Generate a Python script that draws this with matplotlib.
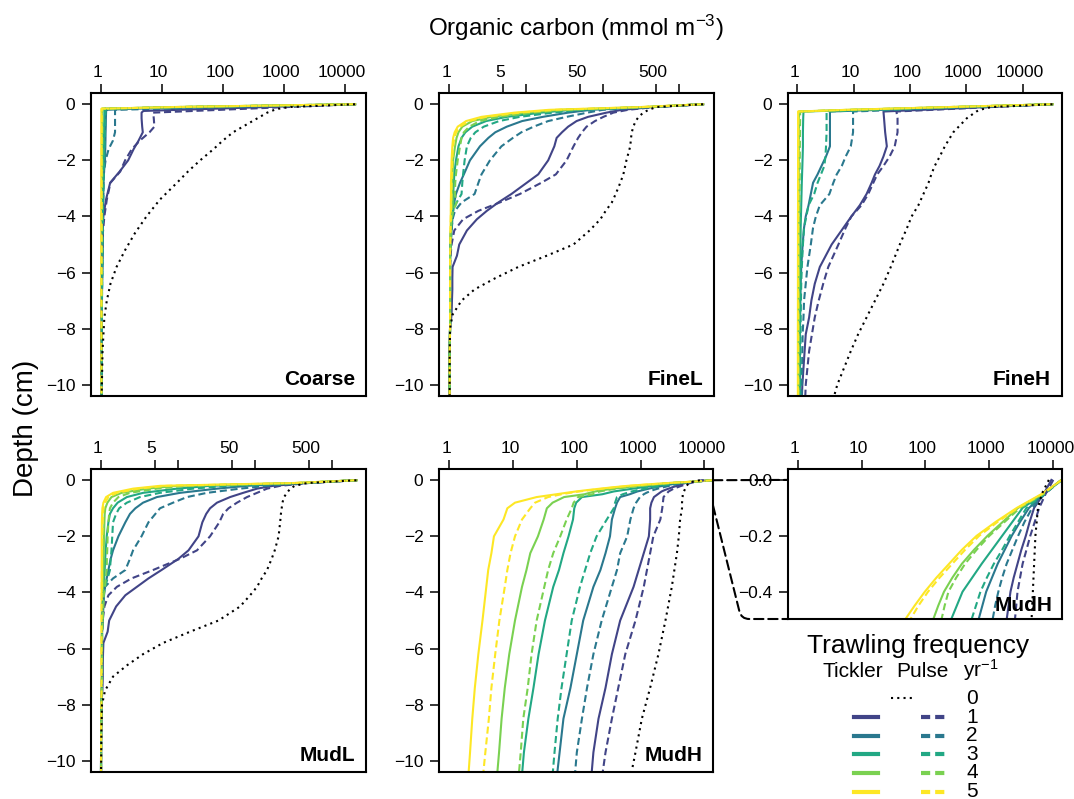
import matplotlib
matplotlib.use("Agg")
import matplotlib.pyplot as plt
from matplotlib.lines import Line2D
from matplotlib.patches import ConnectionPatch
from matplotlib.ticker import NullLocator
from matplotlib.transforms import ScaledTranslation
import numpy as np

plt.rcParams["font.family"] = ["Liberation Sans", "DejaVu Sans"]
plt.rcParams["mathtext.fontset"] = "custom"
plt.rcParams["mathtext.rm"] = "Liberation Sans"
plt.rcParams["mathtext.it"] = "Liberation Sans:italic"
plt.rcParams["mathtext.bf"] = "Liberation Sans:bold"

W, H = 1074, 799

freq_labels = ["0", "1", "2", "3", "4", "5"]
freq_colors = ["#414487", "#2A788E", "#22A884", "#7AD151", "#FDE725"]

# organic carbon, stored as log10(mmol m-3)
# tickler / pulse lists hold the 1..5 yr-1 profiles

# --- Coarse
coarse_depth = [0, -0.1, -0.16, -0.2, -0.24, -0.3, -0.5, -0.8, -1.0, -1.3, -1.6, -2.0,
                -2.4, -2.8, -3.4, -4.0, -4.6, -5.2, -5.8, -6.4, -7.0, -7.6, -8.8, -10.5]
coarse_f0 = [4.17, 3.10, 2.92, 2.85, 2.80, 2.73, 2.57, 2.33, 2.17, 2.00, 1.85, 1.63,
             1.43, 1.25, 0.97, 0.75, 0.56, 0.40, 0.26, 0.16, 0.10, 0.06, 0.03, 0.015]
coarse_tickler = [
    [4.17, 2.72, 1.86, 1.28, 0.70, 0.67, 0.67, 0.68, 0.69, 0.62, 0.54, 0.45,
     0.31, 0.155, 0.087, 0.044, 0.03, 0.025, 0.022, 0.02, 0.02, 0.018, 0.017, 0.015],
    [4.17, 1.90, 0.54, 0.09, 0.09, 0.088, 0.085, 0.083, 0.08, 0.078, 0.075, 0.07,
     0.055, 0.045, 0.04, 0.035, 0.03, 0.027, 0.025, 0.022, 0.02, 0.018, 0.017, 0.015],
    [4.17, 1.35, 0.06, 0.06, 0.06, 0.06, 0.058, 0.056, 0.055, 0.053, 0.05, 0.047,
     0.043, 0.04, 0.037, 0.033, 0.03, 0.027, 0.025, 0.022, 0.02, 0.018, 0.017, 0.015],
    [4.17, 1.25, 0.02, 0.02, 0.02, 0.02, 0.02, 0.02, 0.02, 0.02, 0.019, 0.019,
     0.018, 0.018, 0.018, 0.017, 0.017, 0.017, 0.016, 0.016, 0.016, 0.015, 0.015, 0.015],
    [4.17, 1.20, 0.012, 0.012, 0.012, 0.012, 0.012, 0.012, 0.012, 0.012, 0.012, 0.012,
     0.011, 0.011, 0.011, 0.011, 0.011, 0.011, 0.011, 0.01, 0.01, 0.01, 0.01, 0.01],
]
coarse_pulse = [
    [4.17, 3.07, 2.40, 1.96, 1.52, 0.86, 0.87, 0.88, 0.80, 0.64, 0.51, 0.40,
     0.32, 0.16, 0.10, 0.06, 0.035, 0.03, 0.025, 0.022, 0.02, 0.018, 0.017, 0.015],
    [4.17, 2.20, 1.02, 0.235, 0.235, 0.235, 0.235, 0.235, 0.235, 0.20, 0.13, 0.08,
     0.055, 0.045, 0.04, 0.035, 0.03, 0.027, 0.025, 0.022, 0.02, 0.018, 0.017, 0.015],
    [4.17, 1.40, 0.08, 0.08, 0.08, 0.078, 0.075, 0.072, 0.07, 0.066, 0.062, 0.057,
     0.052, 0.047, 0.042, 0.037, 0.033, 0.03, 0.027, 0.024, 0.021, 0.019, 0.017, 0.015],
    [4.17, 1.30, 0.03, 0.03, 0.03, 0.03, 0.029, 0.028, 0.028, 0.027, 0.026, 0.025,
     0.024, 0.023, 0.022, 0.021, 0.02, 0.019, 0.018, 0.017, 0.017, 0.016, 0.016, 0.015],
    [4.17, 1.25, 0.018, 0.018, 0.018, 0.018, 0.018, 0.017, 0.017, 0.017, 0.016, 0.016,
     0.016, 0.015, 0.015, 0.015, 0.014, 0.014, 0.014, 0.013, 0.013, 0.013, 0.012, 0.012],
]

# --- FineL and MudL share a depth grid
low_depth = [0, -0.1, -0.2, -0.3, -0.45, -0.6, -0.8, -1.0, -1.2, -1.5,
             -2.0, -2.5, -2.8, -3.2, -3.5, -3.8, -4.1, -4.5, -5.0, -5.4,
             -5.8, -6.2, -6.6, -7.0, -7.5, -8.0, -9.0, -10.5]
finel_f0 = [3.31, 2.70, 2.60, 2.53, 2.47, 2.43, 2.40, 2.38, 2.37, 2.36,
            2.31, 2.27, 2.23, 2.17, 2.12, 2.04, 1.97, 1.83, 1.62, 1.27,
            0.90, 0.60, 0.33, 0.16, 0.043, 0.01, 0.005, 0.005]
finel_tickler = [
    [3.31, 2.66, 2.25, 2.05, 1.81, 1.66, 1.55, 1.47, 1.40, 1.37,
     1.29, 1.16, 1.01, 0.81, 0.64, 0.49, 0.36, 0.23, 0.13, 0.10,
     0.043, 0.04, 0.04, 0.035, 0.03, 0.01, 0.005, 0.005],
    [3.31, 2.62, 1.85, 1.55, 1.22, 0.95, 0.75, 0.60, 0.51, 0.40,
     0.27, 0.19, 0.14, 0.087, 0.065, 0.05, 0.04, 0.03, 0.017, 0.01,
     0.01, 0.01, 0.01, 0.01, 0.01, 0.01, 0.005, 0.005],
    [3.31, 2.58, 1.60, 1.20, 0.75, 0.48, 0.30, 0.21, 0.16, 0.12,
     0.087, 0.065, 0.06, 0.05, 0.06, 0.05, 0.03, 0.022, 0.013, 0.01,
     0.01, 0.01, 0.01, 0.01, 0.01, 0.01, 0.005, 0.005],
    [3.31, 2.55, 1.45, 1.00, 0.55, 0.30, 0.17, 0.12, 0.095, 0.075,
     0.05, 0.043, 0.04, 0.04, 0.043, 0.035, 0.03, 0.022, 0.013, 0.01,
     0.01, 0.01, 0.01, 0.01, 0.01, 0.01, 0.005, 0.005],
    [3.31, 2.50, 1.30, 0.85, 0.42, 0.22, 0.11, 0.07, 0.05, 0.04,
     0.03, 0.025, 0.022, 0.022, 0.02, 0.02, 0.018, 0.015, 0.013, 0.01,
     0.01, 0.01, 0.01, 0.01, 0.01, 0.01, 0.005, 0.005],
]
finel_pulse = [
    [3.31, 2.68, 2.33, 2.14, 2.01, 1.90, 1.79, 1.73, 1.68, 1.62,
     1.53, 1.39, 1.20, 0.92, 0.66, 0.38, 0.18, 0.065, 0.03, 0.017,
     0.01, 0.01, 0.01, 0.01, 0.01, 0.01, 0.005, 0.005],
    [3.31, 2.64, 2.00, 1.80, 1.53, 1.29, 1.10, 0.94, 0.83, 0.68,
     0.53, 0.42, 0.38, 0.33, 0.16, 0.074, 0.043, 0.03, 0.017, 0.01,
     0.01, 0.01, 0.01, 0.01, 0.01, 0.01, 0.005, 0.005],
    [3.31, 2.60, 1.72, 1.35, 0.92, 0.65, 0.45, 0.34, 0.28, 0.23,
     0.20, 0.18, 0.17, 0.16, 0.096, 0.05, 0.035, 0.022, 0.017, 0.01,
     0.01, 0.01, 0.01, 0.01, 0.01, 0.01, 0.005, 0.005],
    [3.31, 2.56, 1.52, 1.10, 0.65, 0.40, 0.26, 0.19, 0.16, 0.14,
     0.11, 0.087, 0.078, 0.074, 0.096, 0.05, 0.03, 0.02, 0.017, 0.01,
     0.01, 0.01, 0.01, 0.01, 0.01, 0.01, 0.005, 0.005],
    [3.31, 2.52, 1.38, 0.92, 0.48, 0.26, 0.14, 0.09, 0.065, 0.05,
     0.04, 0.035, 0.03, 0.028, 0.025, 0.022, 0.02, 0.017, 0.015, 0.01,
     0.01, 0.01, 0.01, 0.01, 0.01, 0.01, 0.005, 0.005],
]

mudl_f0 = [3.32, 2.68, 2.52, 2.46, 2.42, 2.38, 2.36, 2.35, 2.34, 2.33,
           2.31, 2.26, 2.22, 2.16, 2.09, 2.03, 1.94, 1.81, 1.53, 1.16,
           0.81, 0.55, 0.34, 0.16, 0.056, 0.017, 0.009, 0.004]
mudl_tickler = [
    [3.32, 2.68, 2.24, 2.03, 1.85, 1.68, 1.51, 1.42, 1.37, 1.32,
     1.27, 1.14, 1.01, 0.79, 0.62, 0.47, 0.32, 0.20, 0.11, 0.09,
     0.035, 0.03, 0.027, 0.027, 0.022, 0.009, 0.005, 0.004],
    [3.32, 2.62, 1.90, 1.51, 1.03, 0.73, 0.55, 0.45, 0.38, 0.32,
     0.23, 0.16, 0.13, 0.10, 0.078, 0.056, 0.043, 0.035, 0.026, 0.017,
     0.017, 0.017, 0.017, 0.017, 0.015, 0.009, 0.005, 0.004],
    [3.32, 2.58, 1.42, 0.99, 0.55, 0.34, 0.22, 0.16, 0.12, 0.10,
     0.078, 0.065, 0.058, 0.052, 0.045, 0.039, 0.035, 0.03, 0.026, 0.017,
     0.017, 0.017, 0.017, 0.017, 0.015, 0.009, 0.005, 0.004],
    [3.32, 2.55, 0.99, 0.60, 0.27, 0.14, 0.087, 0.06, 0.052, 0.048,
     0.043, 0.04, 0.038, 0.035, 0.033, 0.03, 0.03, 0.028, 0.026, 0.017,
     0.017, 0.017, 0.017, 0.017, 0.015, 0.009, 0.005, 0.004],
    [3.32, 2.50, 0.77, 0.42, 0.16, 0.07, 0.035, 0.022, 0.018, 0.015,
     0.013, 0.013, 0.013, 0.013, 0.013, 0.012, 0.012, 0.012, 0.011, 0.011,
     0.011, 0.01, 0.01, 0.01, 0.01, 0.009, 0.005, 0.004],
]
mudl_pulse = [
    [3.32, 2.70, 2.33, 2.16, 2.03, 1.90, 1.77, 1.66, 1.59, 1.54,
     1.42, 1.25, 1.03, 0.68, 0.40, 0.21, 0.10, 0.048, 0.026, 0.017,
     0.017, 0.017, 0.017, 0.017, 0.015, 0.009, 0.005, 0.004],
    [3.32, 2.65, 2.16, 1.81, 1.38, 1.12, 0.94, 0.77, 0.71, 0.62,
     0.53, 0.42, 0.38, 0.32, 0.16, 0.056, 0.035, 0.026, 0.02, 0.017,
     0.017, 0.017, 0.017, 0.017, 0.015, 0.009, 0.005, 0.004],
    [3.32, 2.60, 1.64, 1.20, 0.77, 0.51, 0.34, 0.24, 0.20, 0.16,
     0.15, 0.14, 0.13, 0.12, 0.09, 0.056, 0.035, 0.022, 0.02, 0.017,
     0.017, 0.017, 0.017, 0.017, 0.015, 0.009, 0.005, 0.004],
    [3.32, 2.56, 1.12, 0.73, 0.38, 0.23, 0.16, 0.12, 0.11, 0.10,
     0.09, 0.085, 0.08, 0.078, 0.065, 0.056, 0.04, 0.035, 0.026, 0.017,
     0.017, 0.017, 0.017, 0.017, 0.015, 0.009, 0.005, 0.004],
    [3.32, 2.52, 0.86, 0.49, 0.21, 0.10, 0.056, 0.035, 0.03, 0.025,
     0.02, 0.018, 0.017, 0.016, 0.015, 0.014, 0.013, 0.012, 0.012, 0.011,
     0.011, 0.01, 0.01, 0.01, 0.01, 0.009, 0.005, 0.004],
]

# --- FineH
fineh_depth = [0, -0.1, -0.2, -0.26, -0.5, -1.0, -1.5, -1.86, -2.2, -2.5,
               -2.8, -3.2, -3.6, -4.0, -4.4, -5.0, -5.8, -6.4, -7.0, -7.6,
               -8.2, -8.8, -9.4, -10.0, -10.5]
fineh_f0 = [4.53, 3.45, 3.24, 3.18, 3.01, 2.77, 2.62, 2.53, 2.44, 2.38,
            2.33, 2.24, 2.15, 2.03, 1.95, 1.82, 1.66, 1.53, 1.38, 1.23,
            1.08, 0.95, 0.83, 0.71, 0.64]
fineh_tickler = [
    [4.53, 3.38, 2.22, 1.53, 1.54, 1.56, 1.59, 1.53, 1.46, 1.38,
     1.32, 1.23, 1.11, 0.96, 0.82, 0.61, 0.40, 0.31, 0.25, 0.21,
     0.15, 0.13, 0.11, 0.09, 0.08],
    [4.53, 3.01, 1.49, 0.58, 0.58, 0.58, 0.58, 0.51, 0.43, 0.36,
     0.28, 0.24, 0.20, 0.15, 0.12, 0.095, 0.07, 0.06, 0.053, 0.05,
     0.047, 0.044, 0.041, 0.038, 0.036],
    [4.53, 2.83, 1.13, 0.11, 0.105, 0.10, 0.10, 0.095, 0.09, 0.085,
     0.08, 0.075, 0.07, 0.065, 0.06, 0.057, 0.054, 0.052, 0.05, 0.049,
     0.048, 0.047, 0.046, 0.045, 0.045],
    [4.53, 2.73, 0.93, 0.03, 0.03, 0.03, 0.029, 0.028, 0.028, 0.027,
     0.027, 0.026, 0.026, 0.025, 0.025, 0.024, 0.024, 0.023, 0.023, 0.022,
     0.022, 0.021, 0.021, 0.02, 0.02],
    [4.53, 2.70, 0.88, 0.015, 0.015, 0.015, 0.015, 0.014, 0.014, 0.014,
     0.013, 0.013, 0.013, 0.012, 0.012, 0.012, 0.011, 0.011, 0.011, 0.011,
     0.01, 0.01, 0.01, 0.01, 0.01],
]
fineh_pulse = [
    [4.53, 3.46, 2.40, 1.76, 1.78, 1.78, 1.73, 1.64, 1.53, 1.42,
     1.35, 1.26, 1.14, 0.96, 0.86, 0.73, 0.55, 0.46, 0.38, 0.31,
     0.26, 0.21, 0.18, 0.15, 0.14],
    [4.53, 3.17, 1.81, 0.99, 0.99, 0.99, 0.95, 0.86, 0.79, 0.70,
     0.64, 0.57, 0.40, 0.33, 0.28, 0.24, 0.18, 0.15, 0.12, 0.11,
     0.095, 0.09, 0.085, 0.08, 0.077],
    [4.53, 2.97, 1.42, 0.52, 0.52, 0.52, 0.51, 0.50, 0.48, 0.42,
     0.36, 0.30, 0.20, 0.16, 0.12, 0.10, 0.08, 0.07, 0.065, 0.06,
     0.058, 0.055, 0.053, 0.051, 0.05],
    [4.53, 2.75, 0.97, 0.05, 0.05, 0.048, 0.046, 0.045, 0.044, 0.043,
     0.042, 0.04, 0.038, 0.036, 0.034, 0.032, 0.03, 0.029, 0.028, 0.027,
     0.026, 0.025, 0.025, 0.024, 0.024],
    [4.53, 2.72, 0.90, 0.02, 0.02, 0.02, 0.02, 0.019, 0.019, 0.019,
     0.018, 0.018, 0.018, 0.017, 0.017, 0.017, 0.016, 0.016, 0.016, 0.015,
     0.015, 0.015, 0.015, 0.015, 0.015],
]

# --- MudH (also shown zoomed in the inset)
mudh_depth = [0, -0.05, -0.1, -0.15, -0.2, -0.25, -0.3, -0.35, -0.4, -0.45, -0.5,
              -0.6, -0.8, -1.0, -1.4, -2.0, -2.6, -3.2, -3.8, -5.0, -6.2, -7.4,
              -8.5, -9.7, -10.5]
mudh_f0 = [3.93, 3.82, 3.76, 3.74, 3.72, 3.71, 3.70, 3.69, 3.68, 3.67, 3.66,
           3.66, 3.65, 3.65, 3.62, 3.60, 3.57, 3.53, 3.49, 3.39, 3.28, 3.15,
           3.02, 2.92, 2.85]
mudh_tickler = [
    [3.97, 3.85, 3.70, 3.63, 3.57, 3.50, 3.44, 3.38, 3.33, 3.30, 3.27,
     3.21, 3.17, 3.15, 3.15, 3.13, 3.05, 2.97, 2.89, 2.68, 2.55, 2.45,
     2.34, 2.26, 2.23],
    [4.13, 3.86, 3.62, 3.48, 3.35, 3.24, 3.13, 3.04, 2.95, 2.89, 2.83,
     2.68, 2.63, 2.60, 2.55, 2.52, 2.45, 2.37, 2.26, 2.10, 2.00, 1.90,
     1.79, 1.73, 1.69],
    [4.13, 3.85, 3.52, 3.36, 3.20, 3.04, 2.88, 2.73, 2.58, 2.49, 2.40,
     2.08, 1.99, 1.96, 1.94, 1.87, 1.79, 1.72, 1.63, 1.50, 1.40, 1.32,
     1.24, 1.17, 1.14],
    [4.13, 3.84, 3.45, 3.21, 2.97, 2.76, 2.57, 2.42, 2.29, 2.20, 2.12,
     1.80, 1.62, 1.53, 1.48, 1.39, 1.27, 1.21, 1.14, 1.03, 0.94, 0.87,
     0.82, 0.78, 0.75],
    [4.13, 3.82, 3.43, 3.10, 2.80, 2.57, 2.37, 2.17, 1.99, 1.83, 1.68,
     1.37, 1.03, 0.91, 0.85, 0.70, 0.66, 0.61, 0.58, 0.52, 0.455, 0.40,
     0.36, 0.325, 0.30],
]
mudh_pulse = [
    [4.00, 3.88, 3.78, 3.71, 3.64, 3.58, 3.52, 3.48, 3.44, 3.42, 3.40,
     3.36, 3.35, 3.34, 3.31, 3.20, 3.15, 3.10, 3.05, 2.92, 2.76, 2.65,
     2.55, 2.45, 2.40],
    [4.13, 3.87, 3.67, 3.55, 3.45, 3.36, 3.27, 3.20, 3.14, 3.09, 3.05,
     2.99, 2.93, 2.89, 2.84, 2.79, 2.68, 2.63, 2.55, 2.39, 2.26, 2.16,
     2.08, 2.00, 1.97],
    [4.13, 3.86, 3.58, 3.45, 3.32, 3.20, 3.07, 2.96, 2.86, 2.79, 2.72,
     2.63, 2.60, 2.58, 2.47, 2.31, 2.21, 2.13, 2.05, 1.92, 1.84, 1.76,
     1.70, 1.65, 1.62],
    [4.13, 3.85, 3.48, 3.24, 3.00, 2.80, 2.62, 2.48, 2.36, 2.30, 2.25,
     2.02, 1.95, 1.92, 1.84, 1.74, 1.63, 1.55, 1.49, 1.37, 1.29, 1.23,
     1.16, 1.12, 1.09],
    [4.13, 3.83, 3.45, 3.13, 2.84, 2.62, 2.42, 2.22, 2.04, 1.89, 1.76,
     1.55, 1.345, 1.27, 1.14, 1.03, 0.96, 0.91, 0.87, 0.785, 0.72, 0.66,
     0.62, 0.565, 0.53],
]

decade_ticks = [1, 10, 100, 1000, 10000]
decade_labels = ["1", "10", "100", "1000", "10000"]
half_ticks = [1, 5, 10, 50, 100, 500, 1000]
half_labels = ["1", "5", "", "50", "", "500", ""]
depth_ticks = [0, -2, -4, -6, -8, -10]
inset_ticks = [0, -0.2, -0.4]


def rect(left, top, right, bottom):
    return [left / W, 1 - bottom / H, (right - left) / W, (bottom - top) / H]


def minus(s):
    return s.replace("-", "\u2212")


def draw_profiles(ax, depth, f0, tickler, pulse):
    d = np.asarray(depth)
    for col, t in zip(freq_colors, tickler):
        ax.plot(10 ** np.asarray(t), d, color=col, lw=1.5)
    for col, p in zip(freq_colors, pulse):
        ax.plot(10 ** np.asarray(p), d, color=col, lw=1.5, dashes=(3.4, 1.8))
    ax.plot(10 ** np.asarray(f0), d, color="black", lw=1.5, dashes=(1, 2))


def style(ax, xlog, xticks, xlabels, name, ylim=(-10.4, 0.4), yticks=depth_ticks,
          yfmt="{:g}", name_off=(11, 11)):
    ax.set_xscale("log")
    ax.set_xlim(10 ** xlog[0], 10 ** xlog[1])
    ax.set_ylim(*ylim)
    ax.xaxis.tick_top()
    ax.set_xticks(xticks)
    ax.set_xticklabels(xlabels)
    ax.xaxis.set_minor_locator(NullLocator())
    ax.set_yticks(yticks)
    ax.set_yticklabels([minus(yfmt.format(v)) for v in yticks])
    ax.tick_params(axis="x", length=6.7, width=1.1, pad=2.5, labelsize=12.5)
    ax.tick_params(axis="y", length=6.7, width=1.1, pad=4.5, labelsize=12.5)
    # the reference labels sit a few pixels left of their ticks
    shift = ScaledTranslation(-3 / 100, 0, fig.dpi_scale_trans)
    for tk in ax.xaxis.get_major_ticks():
        tk.label2.set_transform(tk.label2.get_transform() + shift)
    for s in ax.spines.values():
        s.set_linewidth(1.5)
    bb = ax.get_position()
    ax.text(1 - name_off[0] / (bb.width * W), name_off[1] / (bb.height * H), name,
            transform=ax.transAxes, ha="right", va="baseline",
            fontsize=15, fontweight="bold")


fig = plt.figure(figsize=(W / 100, H / 100), dpi=100)

ax = fig.add_axes(rect(91, 93, 366, 396))
draw_profiles(ax, coarse_depth, coarse_f0, coarse_tickler, coarse_pulse)
style(ax, (-0.159, 4.349), decade_ticks, decade_labels, "Coarse")

ax = fig.add_axes(rect(439, 93, 714, 396))
draw_profiles(ax, low_depth, finel_f0, finel_tickler, finel_pulse)
style(ax, (-0.134, 3.452), half_ticks, half_labels, "FineL")

ax = fig.add_axes(rect(788, 93, 1062, 396))
draw_profiles(ax, fineh_depth, fineh_f0, fineh_tickler, fineh_pulse)
style(ax, (-0.165, 4.70), decade_ticks, decade_labels, "FineH")

ax = fig.add_axes(rect(91, 469, 366, 772))
draw_profiles(ax, low_depth, mudl_f0, mudl_tickler, mudl_pulse)
style(ax, (-0.126, 3.445), half_ticks, half_labels, "MudL")

mudh_xlog = (-0.162, 4.136)
ax_mudh = fig.add_axes(rect(439, 469, 713, 772))
draw_profiles(ax_mudh, mudh_depth, mudh_f0, mudh_tickler, mudh_pulse)
style(ax_mudh, mudh_xlog, decade_ticks, decade_labels, "MudH")

inset_xlog = (-0.15, 4.136)
inset_ylim = (-0.4975, 0.039)
ax_in = fig.add_axes(rect(788, 469, 1062, 619))
draw_profiles(ax_in, mudh_depth, mudh_f0, mudh_tickler, mudh_pulse)
style(ax_in, inset_xlog, decade_ticks, decade_labels, "MudH", ylim=inset_ylim,
      yticks=inset_ticks, yfmt="{:.1f}", name_off=(10, 8))

# zoom connectors between MudH and its inset
dash = (0, (4.5, 2.3))
fig.add_artist(ConnectionPatch(xyA=(10 ** mudh_xlog[1], 0), coordsA="data", axesA=ax_mudh,
                               xyB=(10 ** inset_xlog[0], 0), coordsB="data", axesB=ax_in,
                               color="black", lw=1.5, linestyle=dash))
fig.add_artist(ConnectionPatch(xyA=(10 ** mudh_xlog[1], -0.9), coordsA="data", axesA=ax_mudh,
                               xyB=(10 ** inset_xlog[0], inset_ylim[0]), coordsB="data",
                               axesB=ax_in, color="black", lw=1.5, linestyle=dash,
                               connectionstyle="angle,angleA=-76,angleB=0,rad=8"))

# shared axis titles
fig.text(576 / W, 1 - 36 / H, "Organic carbon (mmol m$^{-3}$)", ha="center",
         va="baseline", fontsize=17.5)
fig.text(33 / W, 1 - 428 / H, "Depth (cm)", rotation=90, rotation_mode="anchor",
         ha="center", va="baseline", fontsize=20)

# legend
fig.text(918 / W, 1 - 653 / H, "Trawling frequency", ha="center", va="baseline", fontsize=19)
fig.text(853 / W, 1 - 677 / H, "Tickler", ha="center", va="baseline", fontsize=15)
fig.text(922 / W, 1 - 677 / H, "Pulse", ha="center", va="baseline", fontsize=15)
fig.text(963 / W, 1 - 677 / H, "yr$^{-1}$", ha="left", va="baseline", fontsize=15)
for i, lab in enumerate(freq_labels):
    yl = 1 - (698 + 18.8 * i) / H
    fig.text(972 / W, 1 - (704 + 18.6 * i) / H, lab, ha="center", va="baseline", fontsize=15)
    if i == 0:
        fig.add_artist(Line2D([891 / W, 914 / W], [yl, yl], color="black", lw=1.5,
                              dashes=(1, 2)))
    else:
        col = freq_colors[i - 1]
        fig.add_artist(Line2D([854 / W, 878 / W], [yl, yl], color=col, lw=3))
        fig.add_artist(Line2D([921 / W, 945 / W], [yl, yl], color=col, lw=3,
                              dashes=(2.2, 1.2)))

fig.savefig("out.png", dpi=100, facecolor="white")
